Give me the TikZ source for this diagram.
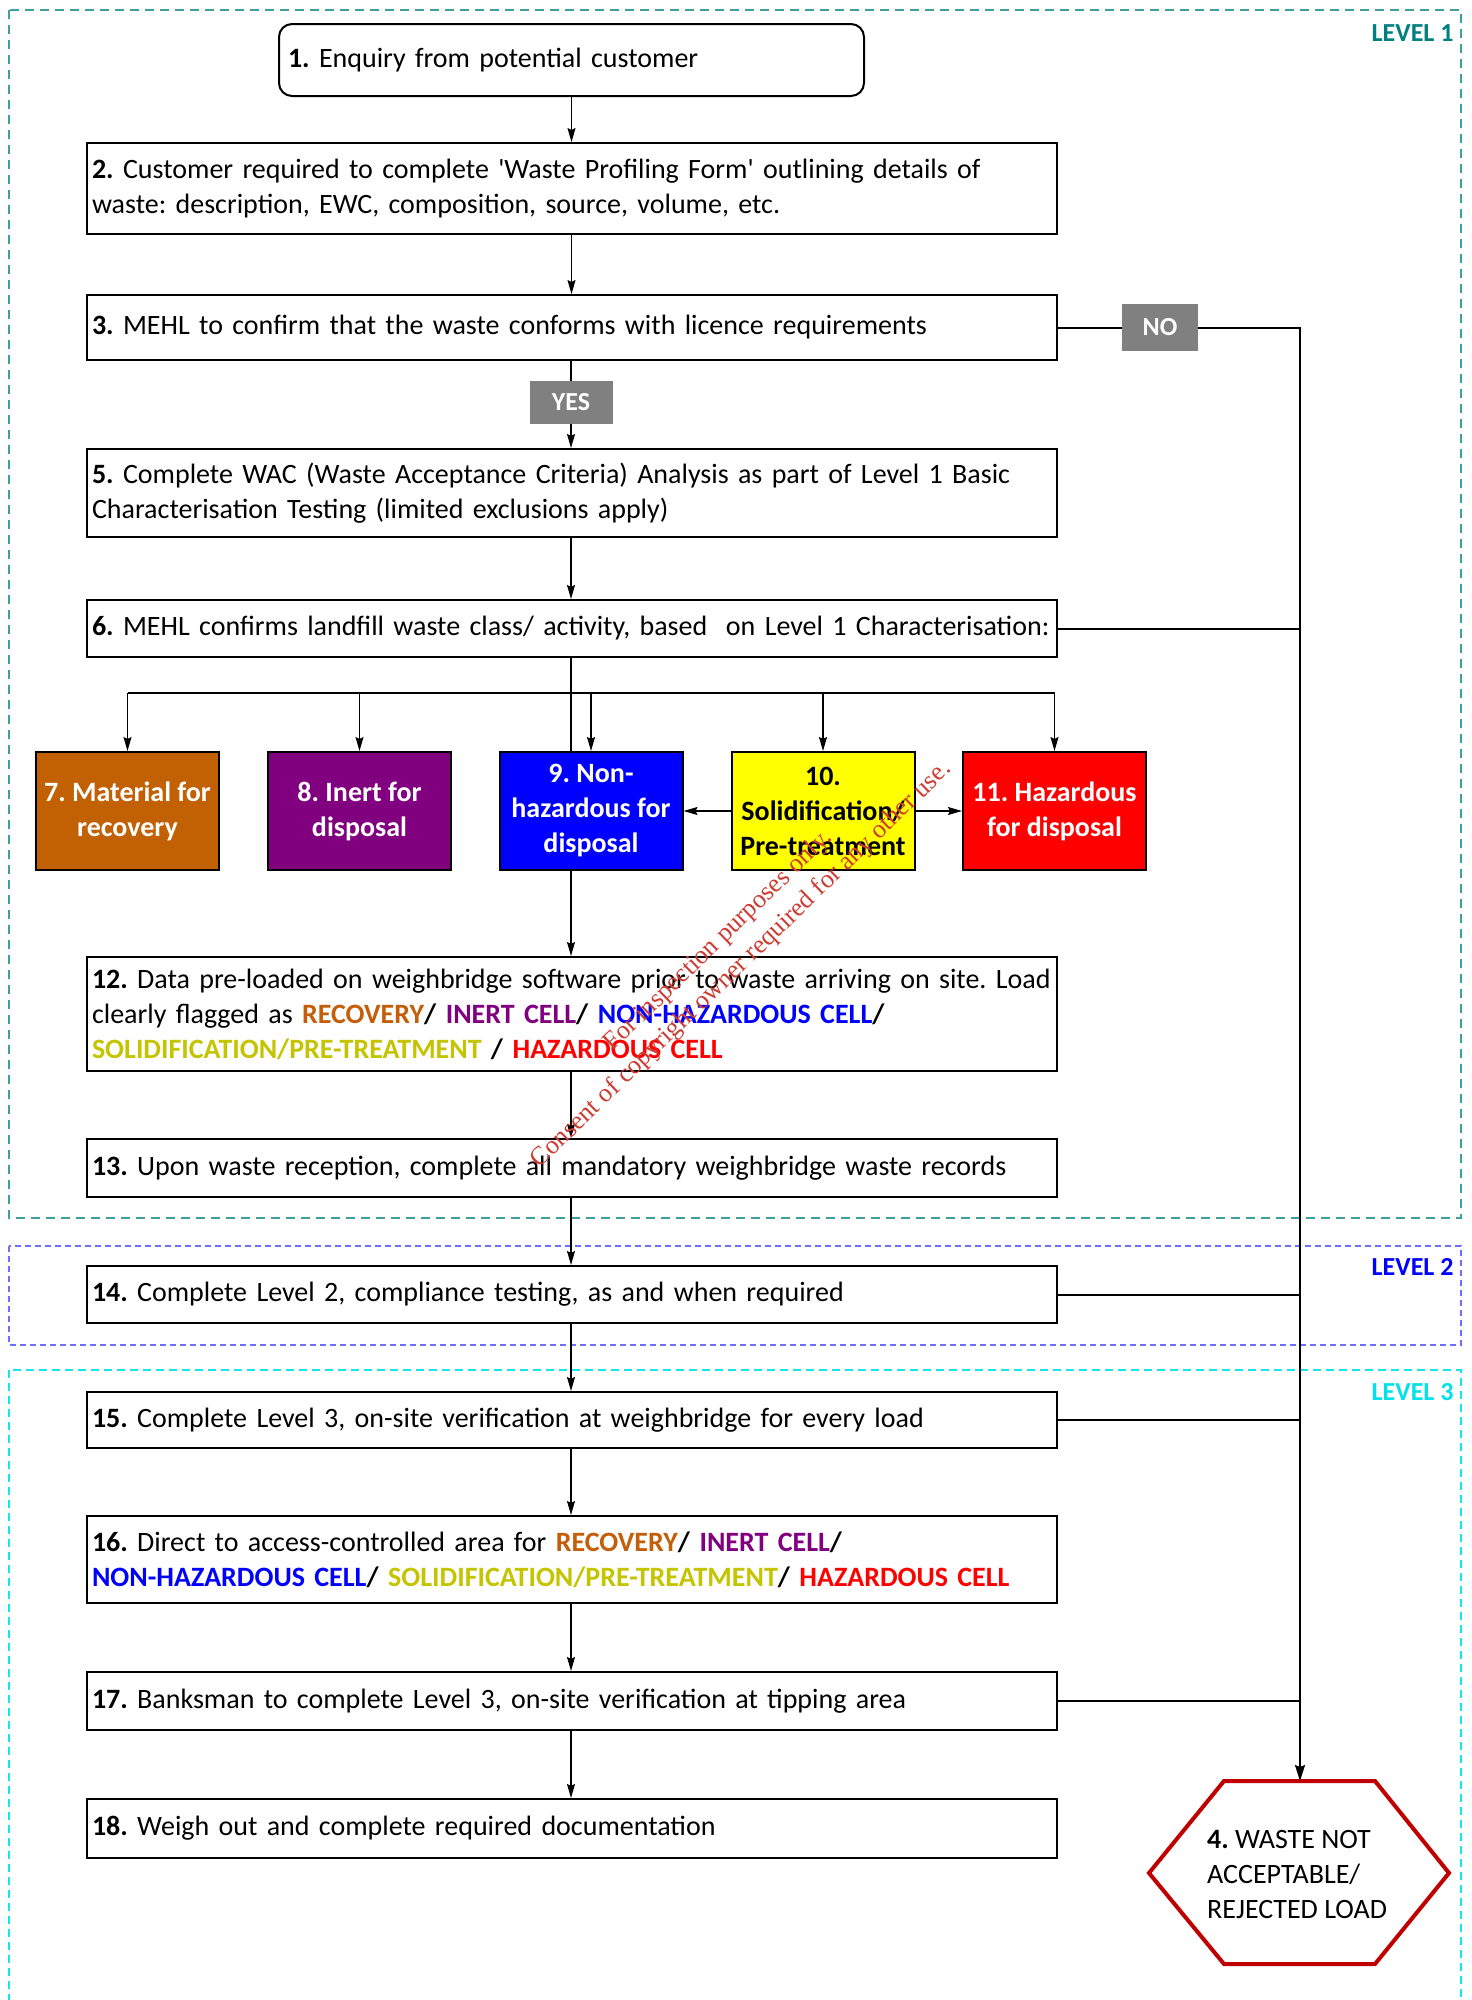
\documentclass[tikz,border=0pt]{standalone}
\usepackage{fontspec}
\setmainfont{Carlito}
\newfontfamily\wmfont{Liberation Serif}
\usetikzlibrary{arrows.meta}
\definecolor{cRecC}{RGB}{196,94,10}
\definecolor{cIneC}{RGB}{128,0,128}
\definecolor{cNonC}{RGB}{0,0,255}
\definecolor{cSolC}{RGB}{196,196,0}
\definecolor{cHazC}{RGB}{255,0,0}
\definecolor{boxOrange}{RGB}{194,96,4}
\definecolor{boxYellow}{RGB}{255,255,0}
\definecolor{lvlOneLine}{RGB}{60,160,160}
\definecolor{lvlOneText}{RGB}{0,128,128}
\definecolor{lvlTwoLine}{RGB}{110,110,255}
\definecolor{lvlTwoText}{RGB}{0,0,255}
\definecolor{lvlThreeLine}{RGB}{20,230,235}
\definecolor{lvlThreeText}{RGB}{0,225,235}
\definecolor{tagGray}{RGB}{128,128,128}
\definecolor{hexRed}{RGB}{192,0,0}
\definecolor{wmRed}{RGB}{205,60,50}
\newcommand\cRec[1]{\textcolor{cRecC}{\bfseries #1}}
\newcommand\cIne[1]{\textcolor{cIneC}{\bfseries #1}}
\newcommand\cNon[1]{\textcolor{cNonC}{\bfseries #1}}
\newcommand\cSol[1]{\textcolor{cSolC}{\bfseries #1}}
\newcommand\cHaz[1]{\textcolor{cHazC}{\bfseries #1}}
\frenchspacing
\begin{document}
\begin{tikzpicture}[x=1pt,y=-1pt,
  basefont/.style={font=\fontsize{28}{35}\selectfont},
  stepbox/.style={basefont,draw,line width=2pt,fill=white,inner xsep=5pt,inner ysep=0pt,
     text width=960pt,minimum height=#1,align=left},
  catbox/.style={draw,line width=2pt,inner sep=0pt,minimum width=183pt,
     minimum height=118pt,align=center,font=\fontsize{28}{35}\selectfont\bfseries},
  tagbox/.style={fill=tagGray,text=white,inner sep=0pt,font=\fontsize{26}{30}\selectfont\bfseries},
  lvltext/.style={anchor=east,font=\fontsize{26}{30}\selectfont\bfseries},
  arr/.style={line width=1.2pt,-{Stealth[length=14pt,width=8pt,inset=2pt]}},
  conn/.style={line width=1.2pt},
  trunk/.style={line width=2pt}]
\useasboundingbox (0,0) rectangle (1472,2000);
\fill[white] (0,0) rectangle (1472,2000);

% level frames
\draw[lvlOneLine,line width=1.5pt,dash pattern=on 9pt off 6pt] (9,10) rectangle (1461,1218);
\draw[lvlTwoLine,line width=1.5pt,dash pattern=on 6pt off 4pt] (9,1246) rectangle (1461,1345);
\draw[lvlThreeLine,line width=1.5pt,dash pattern=on 8pt off 5pt] (9,1370) rectangle (1461,2030);
\node[lvltext,text=lvlOneText] (lvA) at (1457,33) {LEVEL 1};
\node[lvltext,text=lvlTwoText] (lvB) at (1457,1267) {LEVEL 2};
\node[lvltext,text=lvlThreeText] (lvC) at (1457,1392) {LEVEL 3};

% main steps
\node[basefont,draw,line width=2pt,rounded corners=13pt,inner xsep=9pt,inner ysep=0pt,
  text width=567pt,minimum height=72pt,align=left] (n1) at (571.5,60)
  {\textbf{1.} Enquiry from potential customer};
\node[stepbox=91pt] (n2) at (572,188.5)
  {\textbf{2.} Customer required to complete \textquotesingle Waste Profiling Form\textquotesingle\ outlining details of\\
   waste: description, EWC, composition, source, volume, etc.};
\node[stepbox=65pt] (n3) at (572,327.5)
  {\textbf{3.} MEHL to confirm that the waste conforms with licence requirements};
\node[tagbox,minimum width=76pt,minimum height=47pt] (no) at (1160,327.5) {NO};
\node[tagbox,minimum width=83pt,minimum height=43pt] (yes) at (571,402.5) {YES};
\node[stepbox=88pt] (n5) at (572,493)
  {\textbf{5.} Complete WAC (Waste Acceptance Criteria) Analysis as part of Level 1 Basic\\
   Characterisation Testing (limited exclusions apply)};
\node[stepbox=57pt] (n6) at (572,628.5)
  {\mbox{\textbf{6.} MEHL confirms landfill waste class/ activity, based \ on Level 1 Characterisation:}};

% categories
\node[catbox,fill=boxOrange,text=white] (n7) at (127.5,811) {7. Material for\\recovery};
\node[catbox,fill=cIneC,text=white] (n8) at (359.5,811) {8. Inert for\\disposal};
\node[catbox,fill=cNonC,text=white] (n9) at (591,811) {9. Non-\\hazardous for\\disposal};
\node[catbox,fill=boxYellow,text=black] (n10) at (823,811) {10.\\Solidification/\\Pre-treatment};
\node[catbox,fill=cHazC,text=white] (n11) at (1054.5,811) {11. Hazardous\\for disposal};

\node[stepbox=114pt] (n12) at (572,1014)
  {\mbox{\textbf{12.} Data pre-loaded on weighbridge software prior to waste arriving on site. Load}\\
   clearly flagged as \cRec{RECOVERY}\textbf{/} \cIne{INERT CELL}\textbf{/} \cNon{NON-HAZARDOUS CELL}\textbf{/}\\
   \cSol{SOLIDIFICATION/PRE-TREATMENT} \textbf{/} \cHaz{HAZARDOUS CELL}};
\node[stepbox=58pt] (n13) at (572,1168)
  {\textbf{13.} Upon waste reception, complete all mandatory weighbridge waste records};
\node[stepbox=57pt] (n14) at (572,1294.5)
  {\textbf{14.} Complete Level 2, compliance testing, as and when required};
\node[stepbox=56pt] (n15) at (572,1420)
  {\textbf{15.} Complete Level 3, on-site verification at weighbridge for every load};
\node[stepbox=87pt] (n16) at (572,1559.5)
  {\textbf{16.} Direct to access-controlled area for \cRec{RECOVERY}\textbf{/} \cIne{INERT CELL}\textbf{/}\\
   \mbox{\cNon{NON-HAZARDOUS CELL}\textbf{/} \cSol{SOLIDIFICATION/PRE-TREATMENT}\textbf{/} \cHaz{HAZARDOUS CELL}}};
\node[stepbox=58pt] (n17) at (572,1701)
  {\textbf{17.} Banksman to complete Level 3, on-site verification at tipping area};
\node[stepbox=59pt] (n18) at (572,1828.5)
  {\textbf{18.} Weigh out and complete required documentation};

% rejected hexagon
\draw[hexRed,line width=4pt,line join=miter,fill=white]
  (1149,1873) -- (1224,1781) -- (1375,1781) -- (1449,1873) -- (1375,1964) -- (1224,1964) -- cycle;
\coordinate (hextop) at (1300,1781);
\node[basefont,anchor=west,align=left,inner sep=0pt] (n4) at (1207,1874)
  {\textbf{4.} WASTE NOT\\ACCEPTABLE/\\REJECTED LOAD};

% connectors
\draw[arr] (n1.south) -- (n2.north -| n1.south);
\draw[arr] (n2.south -| n1.south) -- (n3.north -| n1.south);
\draw[conn] (n3.south -| yes.north) -- (yes.north);
\draw[arr] (yes.south) -- (n5.north -| yes.south);
\draw[arr] (n5.south -| yes.south) -- (n6.north -| yes.south);
\coordinate (hub) at (571,693);
\draw[conn] (n6.south -| hub) -- (n9.north -| hub);
\draw[conn] (n7.north |- hub) -- (n11.north |- hub);
\foreach \b in {n7,n8,n9,n10,n11} \draw[arr] (\b.north |- hub) -- (\b.north);
\draw[arr] (n10.west) -- (n9.east);
\draw[arr] (n10.east) -- (n11.east -| n11.west);
\draw[arr] (n9.south -| hub) -- (n12.north -| hub);
\draw[arr] (n12.south -| hub) -- (n13.north -| hub);
\draw[arr] (n13.south -| hub) -- (n14.north -| hub);
\draw[arr] (n14.south -| hub) -- (n15.north -| hub);
\draw[arr] (n15.south -| hub) -- (n16.north -| hub);
\draw[arr] (n16.south -| hub) -- (n17.north -| hub);
\draw[arr] (n17.south -| hub) -- (n18.north -| hub);

% rejection trunk
\draw[trunk] (n3.east) -- (no.west);
\draw[trunk,-{Stealth[length=16pt,width=10pt,inset=2pt]}] (no.east) -- (no.east -| hextop) -- (hextop);
\draw[trunk] (n6.east) -- (n6.east -| hextop);
\draw[trunk] (n14.east) -- (n14.east -| hextop);
\draw[trunk] (n15.east) -- (n15.east -| hextop);
\draw[trunk] (n17.east) -- (n17.east -| hextop);

% watermark
\node[wmRed,rotate=44,align=center,inner sep=0pt,font=\wmfont\fontsize{26}{33}\selectfont] (wm) at (730,953)
  {For inspection purposes only.\\Consent of copyright owner required for any other use.};
\end{tikzpicture}
\end{document}
